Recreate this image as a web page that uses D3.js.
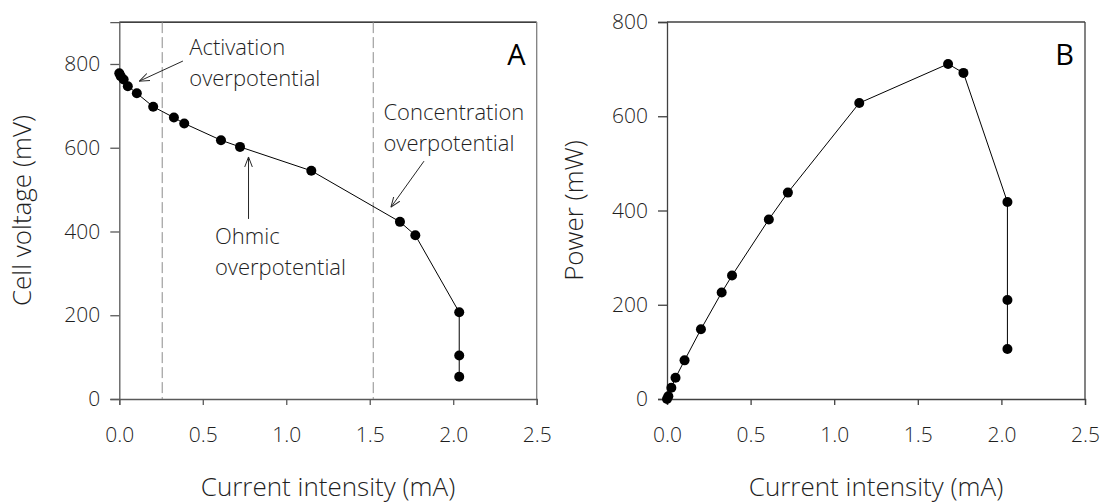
<!DOCTYPE html>
<html>
<head>
<meta charset="utf-8">
<script src="https://cdn.jsdelivr.net/npm/d3@7"></script>
<style>
  html, body { margin: 0; padding: 0; background: #ffffff; }
  #chart text { font-family: "Open Sans", "Noto Sans", sans-serif; font-weight: 300; fill: #1f1f1f; }
</style>
</head>
<body>
<div id="chart"></div>
<script>
'use strict';

// Global vars
// readings shared by both panels (current in mA)
const currentMA = [0.0, 0.008, 0.026, 0.051, 0.105, 0.203, 0.327, 0.389, 0.609, 0.723, 1.150, 1.681, 1.773, 2.036, 2.036, 2.036];
// panel A, cell voltage (mV)
const voltageMV = [778, 771, 763, 747, 730, 698, 672, 658, 618, 602, 545, 423, 391, 207, 104, 53];
// panel B, power (mW)
const powerMW = [0, 6, 24, 45, 82, 148, 226, 262, 381, 438, 628, 711, 692, 418, 210, 106];

const xTicks = [0, 0.5, 1.0, 1.5, 2.0, 2.5];
const yTicks = [0, 200, 400, 600, 800];

// region boundaries drawn as dashed lines in panel A
const regionLimits = [0.257, 1.521];

// annotations of panel A, in data units
const annotationLabels = [
    { lines: ["Activation", "overpotential"], x: 0.419, y: 821 },
    { lines: ["Ohmic", "overpotential"], x: 0.573, y: 370 },
    { lines: ["Concentration", "overpotential"], x: 1.582, y: 666 }
];
const annotationArrows = [
    { x1: 0.381, y1: 807, x2: 0.120, y2: 759 },
    { x1: 0.774, y1: 430, x2: 0.774, y2: 578 },
    { x1: 1.825, y1: 568, x2: 1.627, y2: 458 }
];

//------------------------------------------------------------
// one panel of the figure
//------------------------------------------------------------
{ // start scope

const svgWidth = 1103;
const svgHeight = 504;

let svg = d3.select("#chart")
            .append("svg")
            .attr("width", svgWidth)
            .attr("height", svgHeight);

// open arrow head for the annotations
svg.append("defs")
    .append("marker")
    .attr("id", "openArrow")
    .attr("viewBox", "0 0 10 10")
    .attr("refX", 10)
    .attr("refY", 5)
    .attr("markerWidth", 10)
    .attr("markerHeight", 10)
    .attr("markerUnits", "userSpaceOnUse")
    .attr("orient", "auto")
    .append("path")
    .attr("d", "M0,1.2 L10,5 L0,8.8")
    .attr("fill", "none")
    .attr("stroke", "#262626")
    .attr("stroke-width", 1);

function drawPanel(opts) {
    let xScale = d3.scaleLinear().domain([0, 2.5]).range([opts.left, opts.right]);
    let yScale = d3.scaleLinear().domain([0, opts.yMax]).range([opts.bottom, opts.top]);

    let g = svg.append("g");

    // frame: top and right border
    g.append("line")
        .attr("x1", opts.left).attr("x2", opts.right)
        .attr("y1", opts.top).attr("y2", opts.top)
        .attr("stroke", opts.topColor).attr("stroke-width", 1.3);
    g.append("line")
        .attr("x1", opts.right).attr("x2", opts.right)
        .attr("y1", opts.top).attr("y2", opts.bottom)
        .attr("stroke", opts.rightColor).attr("stroke-width", 1.3);

    // axes
    let xAxis = g.append("g")
        .attr("transform", `translate(0,${opts.bottom})`)
        .call(d3.axisBottom(xScale).tickValues(xTicks).tickFormat(d3.format(".1f"))
              .tickSizeOuter(0).tickSize(6).tickPadding(22));
    let yAxis = g.append("g")
        .attr("transform", `translate(${opts.left},0)`)
        .call(d3.axisLeft(yScale).tickValues(yTicks)
              .tickSizeOuter(0).tickSize(9).tickPadding(10));

    [xAxis, yAxis].forEach((ax) => {
        ax.select(".domain").attr("stroke", opts.axisColor).attr("stroke-width", 1.3);
        ax.selectAll(".tick line").attr("stroke", opts.axisColor).attr("stroke-width", 1.3);
        ax.selectAll(".tick text").style("font-size", "21px");
    });

    // dashed region limits
    g.selectAll(".limit")
        .data(opts.limits)
        .enter()
        .append("line")
        .attr("class", "limit")
        .attr("x1", (d) => xScale(d)).attr("x2", (d) => xScale(d))
        .attr("y1", opts.top).attr("y2", opts.bottom)
        .attr("stroke", "#8c8c8c")
        .attr("stroke-width", 1)
        .attr("stroke-dasharray", "11,4");

    // data line and markers
    let pts = currentMA.map((c, i) => [c, opts.values[i]]);
    g.append("path")
        .datum(pts)
        .attr("fill", "none")
        .attr("stroke", "#000000")
        .attr("stroke-width", 1)
        .attr("d", d3.line().x((d) => xScale(d[0])).y((d) => yScale(d[1])));
    g.selectAll(".dot")
        .data(pts)
        .enter()
        .append("circle")
        .attr("class", "dot")
        .attr("cx", (d) => xScale(d[0]))
        .attr("cy", (d) => yScale(d[1]))
        .attr("r", 5)
        .attr("fill", "#000000");

    // annotation texts and arrows
    g.selectAll(".annot")
        .data(opts.labels)
        .enter()
        .append("text")
        .attr("class", "annot")
        .attr("x", (d) => xScale(d.x))
        .attr("y", (d) => yScale(d.y))
        .style("font-size", "22px")
        .selectAll("tspan")
        .data((d) => d.lines.map((l) => ({ text: l, x: xScale(d.x) })))
        .enter()
        .append("tspan")
        .attr("x", (d) => d.x)
        .attr("dy", (d, i) => i === 0 ? 0 : 31)
        .text((d) => d.text);

    g.selectAll(".arrow")
        .data(opts.arrows)
        .enter()
        .append("line")
        .attr("class", "arrow")
        .attr("x1", (d) => xScale(d.x1)).attr("y1", (d) => yScale(d.y1))
        .attr("x2", (d) => xScale(d.x2)).attr("y2", (d) => yScale(d.y2))
        .attr("stroke", "#262626")
        .attr("stroke-width", 1)
        .attr("marker-end", "url(#openArrow)");

    // panel letter
    g.append("text")
        .attr("x", opts.right - 11)
        .attr("y", opts.top + 43)
        .attr("text-anchor", "end")
        .style("font-size", "29px")
        .style("font-weight", "400")
        .style("fill", "#000000")
        .text(opts.letter);

    // axis titles
    g.append("text")
        .attr("x", (opts.left + opts.right) / 2)
        .attr("y", 496)
        .attr("text-anchor", "middle")
        .style("font-size", "26px")
        .text("Current intensity (mA)");
    g.append("text")
        .attr("transform", `translate(${opts.yTitleX},${(opts.top + opts.bottom) / 2}) rotate(-90)`)
        .attr("text-anchor", "middle")
        .attr("dy", "0.35em")
        .style("font-size", "26px")
        .text(opts.yTitle);
}

drawPanel({
    left: 119.3, right: 536.7, top: 22.1, bottom: 399, yMax: 900,
    values: voltageMV, letter: "A", yTitle: "Cell voltage (mV)", yTitleX: 22,
    limits: regionLimits, labels: annotationLabels, arrows: annotationArrows,
    axisColor: "#595959", topColor: "#000000", rightColor: "#7f7f7f"
});

drawPanel({
    left: 667, right: 1085, top: 22, bottom: 399, yMax: 800,
    values: powerMW, letter: "B", yTitle: "Power (mW)", yTitleX: 574,
    limits: [], labels: [], arrows: [],
    axisColor: "#404040", topColor: "#404040", rightColor: "#404040"
});

} // end scope
</script>
</body>
</html>
